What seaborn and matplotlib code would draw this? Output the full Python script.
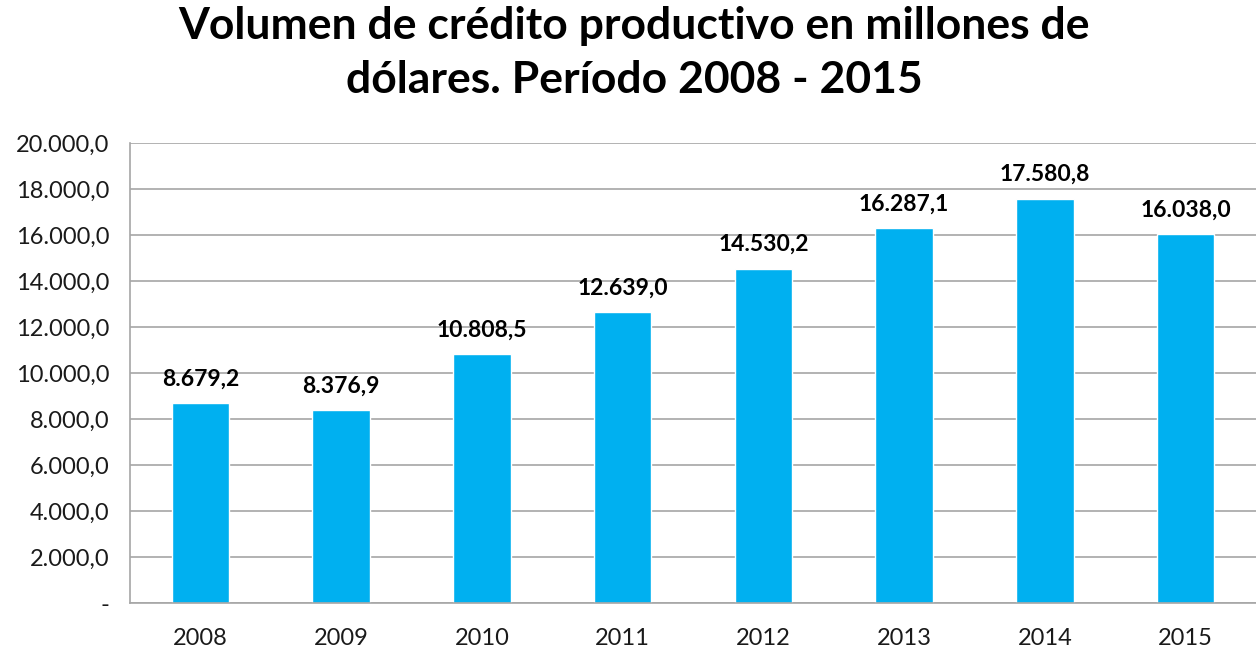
import numpy as np
import pandas as pd
import seaborn as sns
import matplotlib.pyplot as plt
from matplotlib.ticker import FuncFormatter, FixedLocator

years = ["2008", "2009", "2010", "2011", "2012", "2013", "2014", "2015"]
volumen = [8679.2, 8376.9, 10808.5, 12639.0, 14530.2, 16287.1, 17580.8, 16038.0]
title = "Volumen de crédito productivo en millones de\ndólares. Período 2008 - 2015"


def fmt_es(v, pos=None):
    if abs(v) < 1e-9:
        return "-"
    s = "{:,.1f}".format(v)
    return s.replace(",", "X").replace(".", ",").replace("X", ".")


sns.set_style("white")
plt.rcParams['font.family'] = ['Lato', 'DejaVu Sans']

df = pd.DataFrame({"year": years, "vol": volumen})

fig = plt.figure(figsize=(12.56, 6.5), dpi=100)
ax = fig.add_axes([0.1035, 0.0723, 0.8965, 0.7077])

sns.barplot(data=df, x="year", y="vol", color="#00B0F0", width=0.41,
            saturation=1, ax=ax)

ax.set_xlim(-0.5, len(years) - 0.5)
ax.set_ylim(0, 20000)
ax.set_yticks(np.arange(0, 20001, 2000))
ax.yaxis.set_major_formatter(FuncFormatter(fmt_es))
ax.yaxis.grid(True, color="#A6A6A6", linewidth=1.2)
ax.set_axisbelow(True)

for sp in ["top", "right"]:
    ax.spines[sp].set_visible(False)
for sp in ["left", "bottom"]:
    ax.spines[sp].set_color("#A6A6A6")
    ax.spines[sp].set_linewidth(1.2)

ax.tick_params(axis="y", length=10, width=1.2, color="#A6A6A6",
               labelsize=17, labelcolor="#1a1a1a", pad=5)
ax.tick_params(axis="x", which="major", length=0, labelsize=17,
               labelcolor="#1a1a1a", pad=18)
ax.xaxis.set_minor_locator(FixedLocator(np.arange(-0.5, len(years), 1.0)))
ax.tick_params(axis="x", which="minor", length=7, width=1.2, color="#A6A6A6")

ax.set_xlabel("")
ax.set_ylabel("")

for i, v in enumerate(volumen):
    ax.annotate(fmt_es(v), (i, v), xytext=(0, 10), textcoords="offset points",
                ha="center", va="bottom", fontsize=16.5, fontweight="bold",
                color="black")

fig.suptitle(title, fontsize=32, fontweight="bold", y=0.99, x=0.505,
             linespacing=1.4, color="black")

fig.savefig("out.png", dpi=100)
